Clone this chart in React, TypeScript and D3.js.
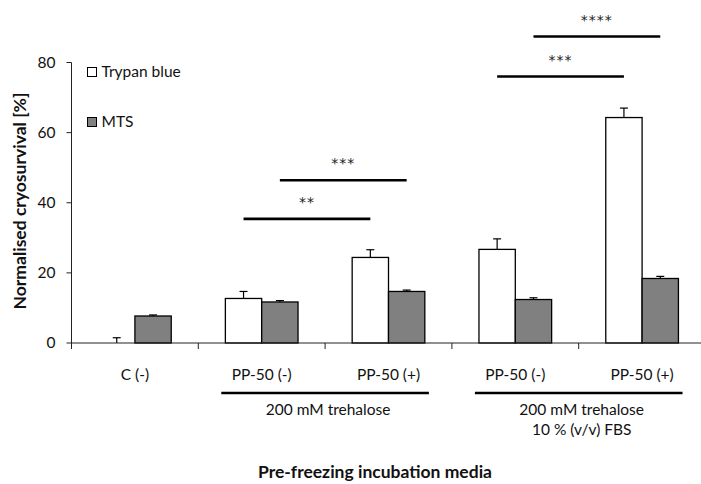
import React from "react"
import { scaleBand, scaleLinear } from "d3"

// data
const categories = ["C (-)", "PP-50 (-)", "PP-50 (+)", "PP-50 (-) ", "PP-50 (+) "]
const series = ["Trypan blue", "MTS"]
const trypanValues = [0, 12.7, 24.4, 26.7, 64.3]
const trypanErrors = [1.5, 2.0, 2.2, 3.0, 2.7]
const mtsValues = [7.7, 11.7, 14.7, 12.4, 18.4]
const mtsErrors = [0.3, 0.4, 0.4, 0.5, 0.6]
const yTicks = [0, 20, 40, 60, 80]

const groups = [
  { from: 1, to: 2, lines: ["200 mM trehalose"] },
  { from: 3, to: 4, lines: ["200 mM trehalose", "10 % (v/v) FBS"] },
]

// significance brackets: [from category, to category, series index, level, stars]
const significance: [number, number, number, number, string][] = [
  [1, 2, 0, 35.4, "**"],
  [1, 2, 1, 46.4, "***"],
  [3, 4, 0, 76.0, "***"],
  [3, 4, 1, 87.4, "****"],
]

const width = 701
const height = 484
const margins = { top: 62.5, left: 71.5, bottom: 141 }
const axisRight = 705.5
const fontFamily = "Lato, 'Open Sans', sans-serif"

const App = () => {
  const yScale = scaleLinear()
    .domain([0, 80])
    .range([height - margins.bottom, margins.top])
  const xScale = scaleBand<string>()
    .domain(categories)
    .range([margins.left, axisRight])
  const inner = scaleBand<string>()
    .domain(series)
    .range([0, xScale.bandwidth()])
    .paddingOuter(0.745)

  const y0 = yScale(0)
  const barX = (ci: number, si: number) =>
    (xScale(categories[ci]) ?? 0) + (inner(series[si]) ?? 0)
  const barCenter = (ci: number, si: number) => barX(ci, si) + inner.bandwidth() / 2

  const valuesBySeries = [trypanValues, mtsValues]
  const errorsBySeries = [trypanErrors, mtsErrors]
  const fills = ["#ffffff", "#808080"]

  return (
    <svg
      width={width}
      height={height}
      style={{ position: "absolute", left: 0, top: 0, background: "#fff" }}
      fontFamily={fontFamily}
    >
      {/* bars */}
      {series.map((s, si) =>
        categories.map((c, ci) => {
          const v = valuesBySeries[si][ci]
          const e = errorsBySeries[si][ci]
          const x = barX(ci, si)
          const cx = barCenter(ci, si)
          const top = yScale(v)
          const errTop = yScale(v + e)
          return (
            <g key={s + c}>
              {v > 0 && (
                <rect
                  x={x}
                  y={top}
                  width={inner.bandwidth()}
                  height={y0 - top}
                  fill={fills[si]}
                  stroke="#000"
                  strokeWidth={1.3}
                />
              )}
              <line x1={cx} x2={cx} y1={top} y2={errTop} stroke="#000" strokeWidth={1.2} />
              <line x1={cx - 4} x2={cx + 4} y1={errTop} y2={errTop} stroke="#000" strokeWidth={1.2} />
            </g>
          )
        }),
      )}

      {/* y axis */}
      <line x1={margins.left} x2={margins.left} y1={yScale(80)} y2={y0} stroke="#222" strokeWidth={1} />
      {yTicks.map((t) => (
        <g key={t}>
          <line x1={margins.left - 5} x2={margins.left} y1={yScale(t)} y2={yScale(t)} stroke="#222" />
          <text x={margins.left - 16} y={yScale(t)} dy="0.35em" textAnchor="end" fontSize={15.5} fill="#111">
            {t}
          </text>
        </g>
      ))}

      {/* x axis */}
      <line x1={margins.left} x2={axisRight} y1={y0} y2={y0} stroke="#222" strokeWidth={1} />
      {categories.map((c, i) => (
        <line key={"t" + i} x1={xScale(c)!} x2={xScale(c)!} y1={y0} y2={y0 + 6} stroke="#222" />
      ))}
      {categories.map((c) => (
        <text
          key={"l" + c}
          x={xScale(c)! + xScale.bandwidth() / 2}
          y={375}
          dy="0.35em"
          textAnchor="middle"
          fontSize={15.5}
          fill="#111"
        >
          {c.trim()}
        </text>
      ))}

      {/* group underlines */}
      {groups.map((g, gi) => {
        const gx0 = xScale(categories[g.from])! + 23
        const gx1 = xScale(categories[g.to])! + xScale.bandwidth() - 23
        return (
          <g key={"g" + gi}>
            <line x1={gx0} x2={gx1} y1={393} y2={393} stroke="#000" strokeWidth={2.5} />
            {g.lines.map((ln, li) => (
              <text
                key={li}
                x={(gx0 + gx1) / 2 + 3}
                y={410 + li * 20}
                dy="0.35em"
                textAnchor="middle"
                fontSize={15.5}
                fill="#111"
              >
                {ln}
              </text>
            ))}
          </g>
        )
      })}

      {/* significance */}
      {significance.map(([a, b, si, level, stars], i) => {
        const x1 = barCenter(a, si)
        const x2 = barCenter(b, si)
        const y = yScale(level)
        return (
          <g key={"s" + i}>
            <line x1={x1} x2={x2} y1={y} y2={y} stroke="#000" strokeWidth={2.6} />
            <text
              x={(x1 + x2) / 2}
              y={y - 12}
              textAnchor="middle"
              fontFamily="'DejaVu Sans', sans-serif"
              fontSize={14}
              letterSpacing={1}
              fill="#222"
            >
              {stars}
            </text>
          </g>
        )
      })}

      {/* legend */}
      {series.map((s, si) => (
        <g key={"lg" + s} transform={`translate(87.5, ${67.5 + si * 50})`}>
          <rect width={9} height={9} fill={fills[si]} stroke="#000" strokeWidth={1} />
          <text x={14} y={4.5} dy="0.35em" fontSize={15.5} fill="#111">
            {s}
          </text>
        </g>
      ))}

      {/* axis titles */}
      <text
        transform="translate(20, 201) rotate(-90)"
        textAnchor="middle"
        dy="0.35em"
        fontSize={17.5}
        fontWeight="bold"
        fill="#111"
      >
        Normalised cryosurvival [%]
      </text>
      <text x={375} y={472} dy="0.35em" textAnchor="middle" fontSize={17.5} fontWeight="bold" fill="#111">
        Pre-freezing incubation media
      </text>
    </svg>
  )
}

export default App
